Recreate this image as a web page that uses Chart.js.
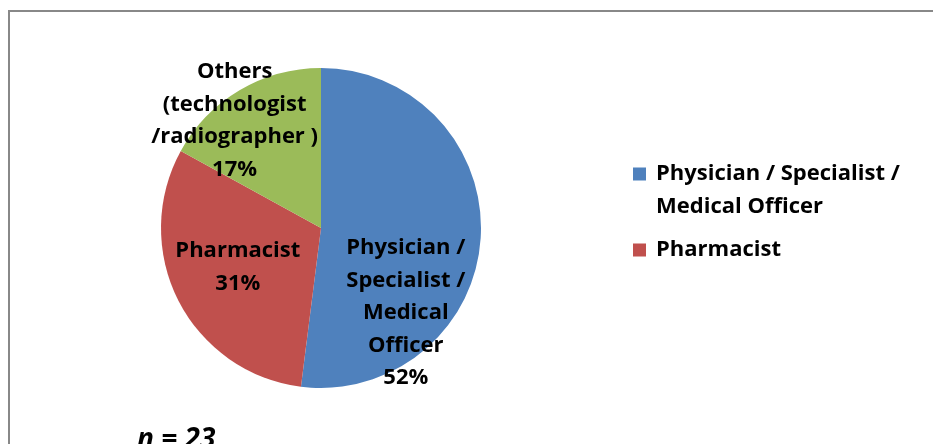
<!DOCTYPE html>
<html>
<head>
<meta charset="utf-8">
<script src="https://cdn.jsdelivr.net/npm/chart.js@4/dist/chart.umd.min.js"></script>
<style>
  html, body { margin: 0; padding: 0; background: #fff; overflow: hidden; }
  #wrap { position: relative; width: 933px; height: 444px; }
  #frame { position: absolute; left: 8px; top: 10px; width: 1000px; height: 600px; border: 2px solid #888; box-sizing: border-box; }
  #chart { position: absolute; left: 0; top: 0; }
</style>
</head>
<body>
<div id="wrap">
  <div id="frame"></div>
  <canvas id="chart" width="933" height="444"></canvas>
</div>
<script>
// data
const categories = ['Physician / Specialist / Medical Officer', 'Pharmacist', 'Others (technologist /radiographer )'];
const shares = [52, 31, 17];
const colors = ['#4F81BD', '#C0504D', '#9BBB59'];
const sliceLabelLines = [
  ['Physician /', 'Specialist /', 'Medical', 'Officer'],
  ['Pharmacist'],
  ['Others', '(technologist', '/radiographer )']
];
const legendLines = [
  ['Physician / Specialist /', 'Medical Officer'],
  ['Pharmacist']
];
const sampleNote = 'n = 23';

const FONT = '"Open Sans", Lato, sans-serif';

// label placement relative to pie centre, in radius units
const labelPos = [[0.53, 0.53], [-0.52, 0.245], [-0.54, -0.67]];

const labelsPlugin = {
  id: 'sliceLabels',
  afterDatasetsDraw(chart) {
    const ctx = chart.ctx;
    const arcs = chart.getDatasetMeta(0).data;
    ctx.save();
    ctx.fillStyle = '#000';
    ctx.textAlign = 'center';
    ctx.textBaseline = 'middle';
    ctx.font = 'bold 22px ' + FONT;
    const lh = 32.5;
    arcs.forEach((arc, i) => {
      const lines = sliceLabelLines[i].concat([shares[i] + '%']);
      const cx = arc.x + labelPos[i][0] * arc.outerRadius;
      const cy = arc.y + labelPos[i][1] * arc.outerRadius;
      const y0 = cy - (lines.length - 1) * lh / 2;
      lines.forEach((t, k) => ctx.fillText(t, cx, y0 + k * lh));
    });

    // legend (only first two entries shown)
    let y = 174;
    ctx.textAlign = 'left';
    legendLines.forEach((lines, i) => {
      ctx.fillStyle = colors[i];
      ctx.fillRect(633, y - 6.5, 13, 13);
      ctx.fillStyle = '#000';
      lines.forEach((t, k) => ctx.fillText(t, 656, y + k * 32.5));
      y += lines.length * 32.5 + 11;
    });

    ctx.font = 'italic bold 28px ' + FONT;
    ctx.fillText(sampleNote, 137, 440);
    ctx.restore();
  }
};

new Chart(document.getElementById('chart'), {
  type: 'pie',
  data: {
    labels: categories,
    datasets: [{
      data: shares,
      backgroundColor: colors,
      borderWidth: 0
    }]
  },
  options: {
    responsive: false,
    animation: false,
    layout: { padding: { left: 161, right: 452, top: 68, bottom: 56 } },
    plugins: {
      legend: { display: false },
      tooltip: { enabled: false }
    }
  },
  plugins: [labelsPlugin]
});
</script>
</body>
</html>
